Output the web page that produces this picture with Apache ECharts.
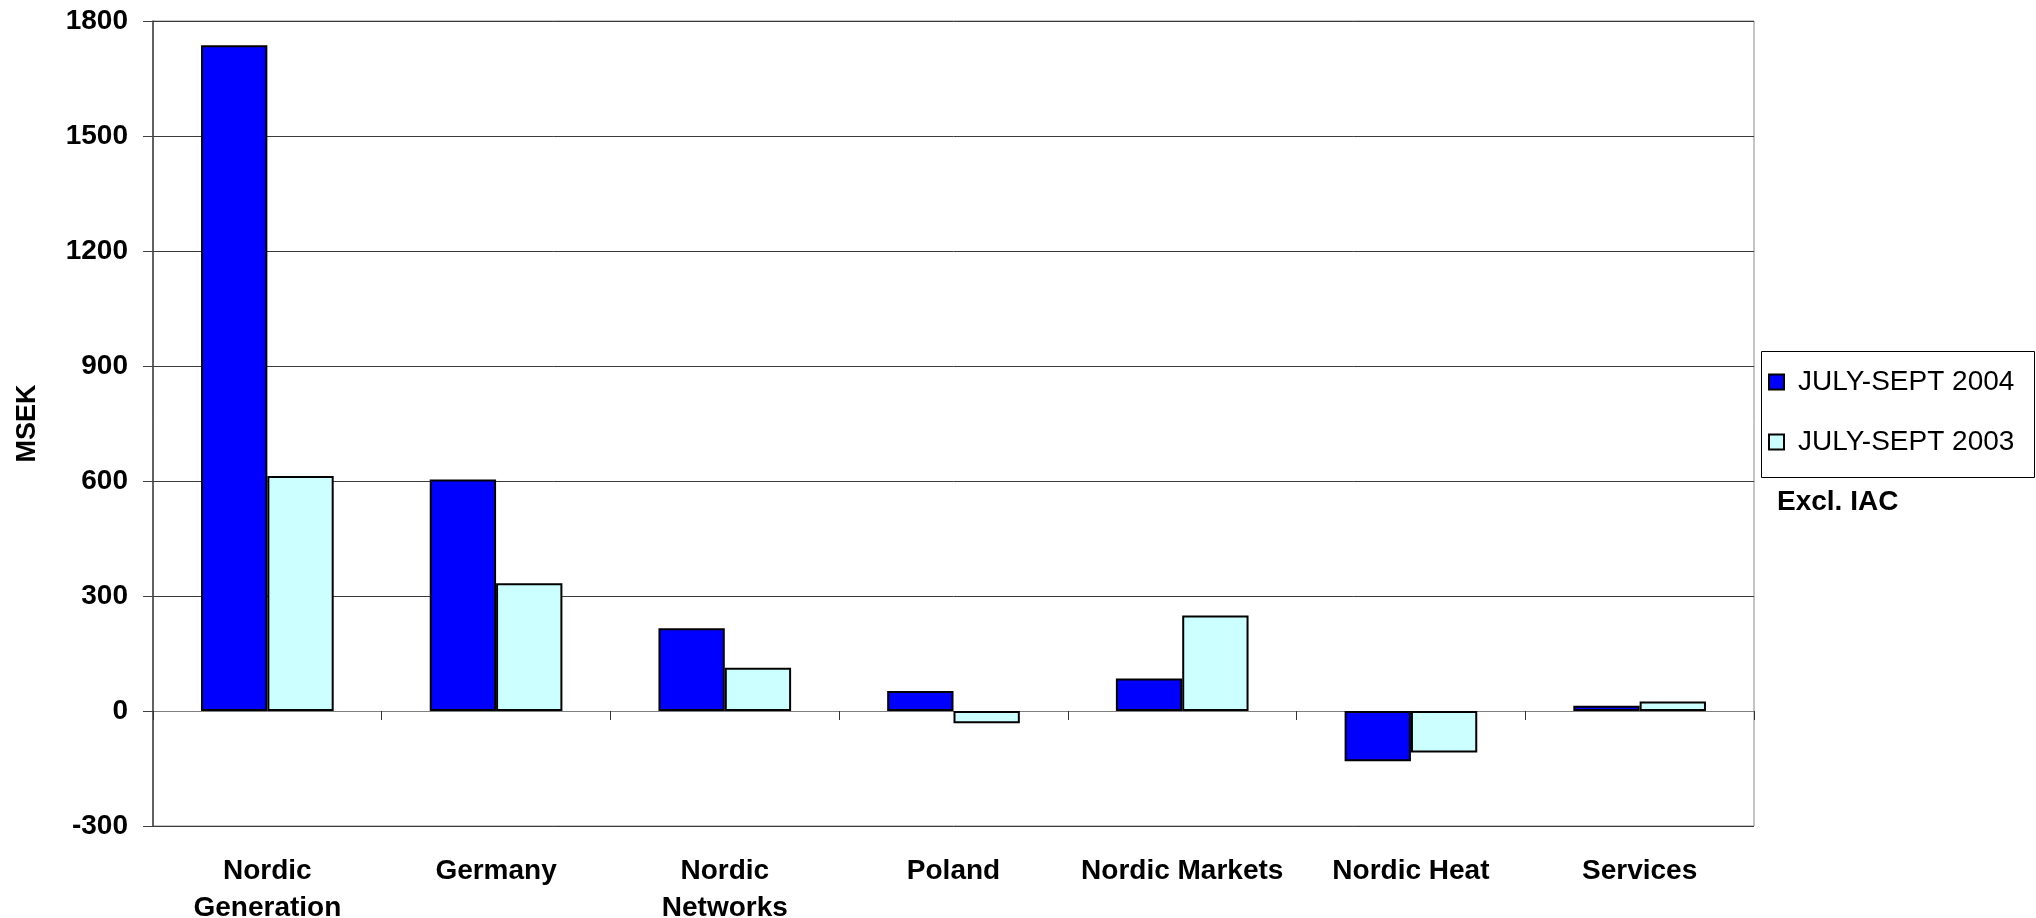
<!DOCTYPE html>
<html>
<head>
<meta charset="utf-8">
<script src="https://cdn.jsdelivr.net/npm/echarts@6/dist/echarts.min.js"></script>
<style>
  html, body { margin: 0; padding: 0; background: #ffffff; }
  #chart { width: 2036px; height: 918px; }
</style>
</head>
<body>
<div id="chart"></div>
<script>
// Operating profit by business area, MSEK
const categories = ['Nordic\nGeneration', 'Germany', 'Nordic\nNetworks', 'Poland', 'Nordic Markets', 'Nordic Heat', 'Services'];
const seriesNames = ['JULY-SEPT 2004', 'JULY-SEPT 2003'];
const values2004 = [1737, 604, 216, 52, 85, -131, 14];
const values2003 = [613, 333, 113, -32, 249, -108, 25];
const yTicks = { min: -300, max: 1800, interval: 300 };
const axisTitle = 'MSEK';
const noteText = 'Excl. IAC';

const FONT = '"Liberation Sans", Arial, sans-serif';

const chart = echarts.init(document.getElementById('chart'), null, { renderer: 'canvas' });

chart.setOption({
  backgroundColor: '#ffffff',
  animation: false,
  grid: {
    left: 153, right: 282, top: 21, bottom: 92,
    outerBoundsMode: 'none',
    containLabel: false,
    show: true, borderColor: '#8c8c8c', borderWidth: 1
  },
  legend: {
    orient: 'vertical',
    left: 1768,
    top: 368,
    padding: 0,
    itemGap: 32,
    itemWidth: 15,
    itemHeight: 15,
    icon: 'rect',
    textStyle: { fontFamily: FONT, fontSize: 28, color: '#000000', padding: [0, 0, 0, 9] },
    data: seriesNames
  },
  xAxis: [
    {
      type: 'category',
      data: categories,
      axisLine: { onZero: true, lineStyle: { color: '#808080', width: 1 } },
      axisTick: { show: true, interval: 0, length: 9, lineStyle: { color: '#333333' } },
      axisLabel: { show: false },
      splitLine: { show: false }
    },
    {
      type: 'category',
      data: categories,
      position: 'bottom',
      axisLine: { show: false, onZero: false },
      axisTick: { show: false },
      axisLabel: {
        interval: 0,
        margin: 27,
        fontFamily: FONT,
        fontSize: 28,
        fontWeight: 'bold',
        color: '#000000',
        lineHeight: 37,
        align: 'center'
      }
    }
  ],
  yAxis: {
    type: 'value',
    min: yTicks.min,
    max: yTicks.max,
    interval: yTicks.interval,
    name: axisTitle,
    nameLocation: 'middle',
    nameRotate: 90,
    nameGap: 112,
    nameTextStyle: { fontFamily: FONT, fontSize: 27, fontWeight: 'bold', color: '#000000' },
    axisLine: { show: true, lineStyle: { color: '#404040', width: 1.5 } },
    axisTick: { show: true, inside: false, length: 10, lineStyle: { color: '#404040' } },
    axisLabel: {
      margin: 25, fontFamily: FONT, fontSize: 28, fontWeight: 'bold', color: '#000000',
      formatter: (v) => String(v)
    },
    splitLine: { show: true, lineStyle: { color: '#3a3a3a', width: 1 } }
  },
  series: [
    {
      name: seriesNames[0],
      type: 'bar',
      xAxisIndex: 0,
      data: values2004,
      barGap: '0%',
      barCategoryGap: '42%',
      itemStyle: { color: '#0000ff', borderColor: '#000000', borderWidth: 2 }
    },
    {
      name: seriesNames[1],
      type: 'bar',
      xAxisIndex: 0,
      data: values2003,
      barGap: '0%',
      barCategoryGap: '42%',
      itemStyle: { color: '#ccffff', borderColor: '#000000', borderWidth: 2 }
    }
  ],
  graphic: [
    {
      type: 'rect',
      left: 1759,
      top: 349,
      shape: { width: 273, height: 126 },
      style: { fill: 'none', stroke: '#000000', lineWidth: 1 }
    },
    {
      type: 'text',
      left: 1777,
      top: 488,
      style: { text: noteText, fontFamily: FONT, fontSize: 28, fontWeight: 'bold', fill: '#000000' }
    }
  ]
});
</script>
</body>
</html>
